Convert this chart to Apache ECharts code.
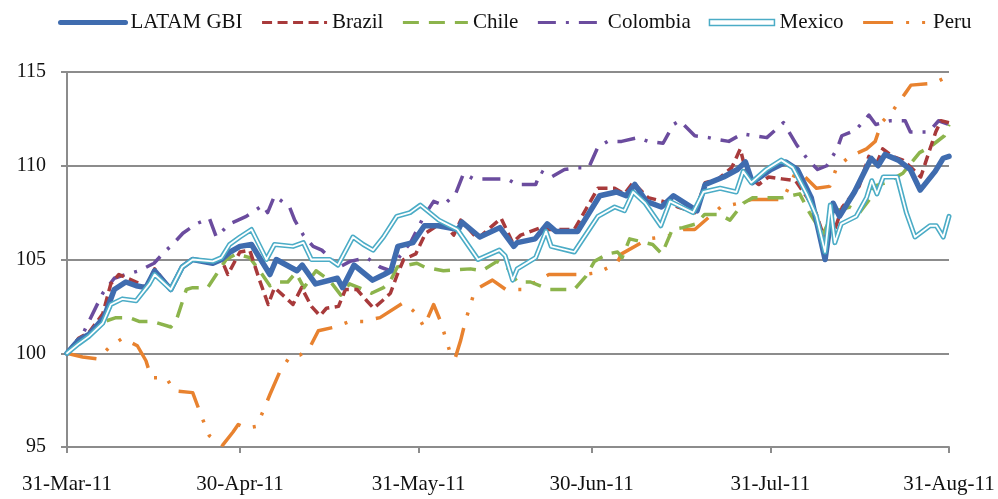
<!DOCTYPE html>
<html>
<head>
<meta charset="utf-8">
<title>LATAM local-currency bond indices</title>
<script src="https://cdn.jsdelivr.net/npm/echarts@6/dist/echarts.min.js"></script>
<style>
  html, body { margin: 0; padding: 0; background: #ffffff; }
  #chart { width: 998px; height: 499px; }
</style>
</head>
<body>
<div id="chart"></div>
<script>
// Index levels (31-Mar-11 = 100). Each point: [days since 31-Mar-11, level]
const latamGbi = [[0,100],[2,100.7],[3.8,101.0],[6.4,101.9],[8.2,103.4],[10.2,103.8],[12,103.6],[13.7,103.5],[15.2,104.4],[18,103.4],[20,104.6],[21.8,105.0],[25.3,104.8],[26.8,105.0],[28.3,105.4],[30,105.7],[32,105.8],[35.2,104.2],[36.3,105.0],[39.9,104.4],[40.8,104.7],[43.1,103.7],[46.9,104.0],[47.8,103.5],[49.8,104.7],[53,103.9],[55,104.2],[56.2,104.4],[57.4,105.7],[60,105.9],[62,106.8],[64.4,106.8],[67.9,106.6],[68.5,107.0],[71.6,106.2],[75.1,106.7],[77.5,105.7],[78.1,105.9],[81.2,106.1],[83.3,106.9],[84.8,106.5],[88.6,106.5],[92.4,108.4],[95.3,108.6],[97,108.4],[98.5,109.0],[100.5,108.1],[103.1,107.8],[105.2,108.4],[109.3,107.6],[110.7,109.0],[113.9,109.4],[116.3,109.8],[117.7,110.2],[118.9,109.1],[122.1,109.8],[124.7,110.2],[126.7,109.8],[129.1,108.3],[131.5,105.0],[132.9,108.0],[134,107.3],[136.6,108.6],[139.5,110.4],[140.7,110.0],[141.9,110.6],[144.2,110.3],[146.3,109.8],[148,108.7],[150.6,109.7],[152,110.4],[153,110.5]];

const brazil = [[0,100],[2,100.8],[3.8,101.1],[6.2,102.1],[7.6,103.7],[9,104.2],[12,103.8],[13.7,103.5],[15.2,104.5],[18,103.4],[20,104.6],[21.8,105.0],[25.3,104.9],[26.8,105.0],[27.9,104.2],[30,105.4],[31.7,105.5],[33.4,103.9],[34.9,102.6],[36,103.5],[37.8,103.0],[39.2,102.6],[40.7,103.5],[42.4,102.5],[43.9,102.0],[45,102.4],[47.1,102.5],[48.3,103.4],[50.3,103.4],[52,102.8],[53.2,102.4],[54.7,102.8],[56.1,103.2],[57.3,104.2],[58.4,105.0],[60.5,105.3],[62.2,106.4],[64.2,106.8],[65.5,106.9],[67.1,106.3],[68.3,107.1],[71.2,106.1],[75.3,107.2],[77.3,105.9],[78.7,106.3],[82.2,106.7],[83.4,106.6],[88,106.6],[92.1,108.8],[95,108.8],[96.7,108.5],[98.2,109.1],[100.8,108.3],[103.4,108.1],[106,107.8],[108.9,107.5],[110.7,109.1],[113,109.3],[115.3,109.9],[116.8,110.9],[117.9,109.5],[120,109.0],[121.7,109.4],[124,109.3],[126.4,109.2],[128.4,108.3],[129.9,107.5],[131.3,106.2],[133.3,106.7],[134.5,107.8],[137.4,108.9],[139.1,110.5],[140.3,110.0],[141.5,110.9],[143.2,110.5],[145,110.3],[146.1,110.0],[148.1,109.4],[149.6,110.8],[150.7,111.8],[151.6,112.4],[153,112.3]];

const chile = [[0,100],[2,100.6],[3.8,101.0],[5.6,101.6],[8.5,101.9],[10.8,101.9],[12.5,101.7],[14.8,101.7],[18,101.4],[18.9,101.7],[20.7,103.4],[21.8,103.5],[24.4,103.5],[25.9,104.2],[27.6,105.0],[29.4,105.3],[31.7,105.1],[33.4,104.4],[35.2,103.6],[36.2,103.8],[38.3,103.8],[39.7,104.3],[41.1,103.5],[43.2,104.4],[45.5,103.9],[47.5,103.1],[49,103.7],[51.4,103.4],[52.8,103.2],[54.9,103.5],[56,103.8],[57.3,104.6],[60.7,104.8],[62,104.6],[65.3,104.4],[70,104.5],[72,104.4],[74.6,104.9],[76.3,104.6],[78.1,103.8],[80.4,103.8],[83.6,103.4],[85.7,103.4],[88,103.4],[90,104.1],[91.5,104.9],[93.8,105.3],[95.5,105.4],[96.3,105.1],[97.6,106.1],[101.6,105.8],[103.2,105.3],[105,106.6],[106.8,106.7],[109.1,106.9],[110.6,107.4],[113.2,107.4],[115,107.1],[117.3,108.0],[119,108.3],[121.3,108.3],[124.2,108.3],[127.1,108.5],[128.8,107.5],[130,106.9],[131.2,106.4],[132.3,107.1],[133.5,107.6],[135.8,107.8],[137.5,107.5],[139.2,108.2],[139.8,108.9],[142.1,109.1],[145,109.6],[147.9,110.7],[149.7,111.0],[152.2,111.6],[153,112.2]];

const colombia = [[0,100],[2.7,101.0],[6.2,103.2],[8.2,104.0],[10.2,104.2],[12.5,104.4],[15.1,104.8],[16.9,105.4],[18.3,105.8],[20.1,106.4],[22.4,106.9],[24.7,107.2],[25.9,106.2],[28.2,106.9],[31.1,107.3],[34,107.9],[34.8,107.5],[36,108.4],[38.6,107.8],[39.5,107.1],[41,106.3],[42.7,105.7],[44.2,105.5],[47.3,104.6],[49.1,104.9],[52,105.1],[54.3,104.6],[56.1,104.4],[57.8,105.2],[59.6,105.9],[61.9,107.3],[63.6,108.1],[65.3,107.9],[67.4,108.5],[68.8,109.6],[70.5,109.3],[76.4,109.3],[78,109.0],[81.3,109.0],[82.2,109.7],[84,109.4],[86.3,109.8],[88.6,109.9],[90.5,109.9],[92.1,111.0],[93.8,111.3],[96.2,111.3],[99.1,111.5],[100.8,111.3],[103.4,111.2],[105.2,112.2],[106.3,112.4],[108.9,111.6],[111.3,111.5],[112.7,111.4],[114.8,111.3],[117.1,111.7],[121.4,111.5],[124.3,112.3],[126.6,111.1],[128.6,110.3],[130.2,109.8],[131.8,110.0],[133.6,110.9],[134.4,111.6],[136.8,111.9],[139.1,112.7],[140.3,112.2],[142.8,112.4],[145.4,112.4],[146.3,111.8],[149.5,111.8],[151.2,112.4],[153,112.2]];

const mexico = [[0,100],[2,100.5],[3.8,100.9],[6.2,101.6],[7.6,102.6],[9.6,102.9],[12,102.8],[14.3,103.7],[15.2,104.2],[18,103.4],[20,104.6],[21.8,105.0],[25.3,104.9],[26.8,105.1],[28.2,105.8],[30,106.2],[32,106.6],[34.6,105.0],[36,105.8],[39.2,105.7],[41,105.9],[42.4,105.0],[45.6,105.0],[47,104.7],[49.6,106.2],[51.4,105.8],[53.1,105.5],[54.9,106.2],[57.2,107.3],[59.5,107.5],[61.3,107.9],[64.5,107.1],[67.7,106.6],[71.3,105.0],[75,105.5],[76,105.2],[77.3,103.9],[78.1,104.5],[81.3,105.1],[83.1,106.5],[84,105.7],[88,105.4],[92.1,107.3],[95,107.8],[96.7,107.6],[98.2,108.6],[100.3,108.0],[103,106.8],[104.6,108.1],[108.6,107.5],[110.4,108.6],[113.3,108.8],[116.1,108.6],[117.3,109.7],[118.7,109.1],[121.3,109.8],[123.9,110.3],[125.9,109.9],[128.3,108.5],[130,107.3],[131.5,105.4],[132.4,107.9],[133.2,105.9],[134.3,106.9],[136.9,107.3],[138.7,108.3],[139.6,109.2],[140.5,108.5],[141.6,109.4],[144,109.4],[145.6,107.5],[147.1,106.2],[149.7,106.8],[150.8,106.8],[152,106.2],[153,107.3]];

const peru = [[0,100],[2.7,99.8],[5.3,99.7],[7.3,100.3],[9.6,100.8],[12.2,100.4],[13.7,99.6],[14.6,98.7],[17.2,98.7],[18.6,98.0],[21.8,97.9],[23.5,96.5],[24.7,95.6],[27,95.1],[28.8,95.8],[29.7,96.2],[31.1,96.0],[32.9,96.1],[34,96.9],[35.2,97.8],[36.9,99.0],[38.6,99.8],[40.4,99.9],[42.1,100.3],[43.6,101.2],[46.5,101.4],[49.1,101.7],[51.4,101.7],[54.3,101.9],[58.4,102.7],[60.7,102.1],[61.9,101.4],[63.6,102.6],[64.8,101.7],[66.5,100.0],[67.3,99.7],[68.3,100.7],[69.1,101.7],[70.6,103.2],[71.5,103.5],[73.8,103.9],[76.1,103.4],[79,103.4],[81.3,103.8],[83.6,104.2],[86.5,104.2],[89.7,104.2],[92.1,104.3],[95.4,104.8],[96.2,105.3],[100.8,106.1],[103.4,106.2],[104.9,106.3],[106.9,106.6],[108.9,106.6],[113.4,107.8],[116.6,108.0],[118.7,108.2],[121.5,108.2],[124.2,108.2],[126.3,109.6],[127.7,109.5],[130,108.8],[132.3,108.9],[133.5,109.9],[135.8,110.5],[138.7,110.9],[140.2,111.3],[141.3,112.3],[143.4,113.0],[145.5,113.9],[146.4,114.3],[150.4,114.4],[153,114.8]];

// Month-end ticks on the date axis
const tickDays = [0, 30, 61, 91, 122, 153];
const tickLabels = ['31-Mar-11', '30-Apr-11', '31-May-11', '30-Jun-11', '31-Jul-11', '31-Aug-11'];
const yTicks = [95, 100, 105, 110, 115];

const SERIF = "'Liberation Serif', 'Times New Roman', serif";
const GREY = '#8c8c8c';

const styles = {
  'LATAM GBI': { color: '#3F6CAF', width: 5.5, dash: 'solid' },
  'Brazil':    { color: '#A83A3B', width: 3.5, dash: [10, 5.5] },
  'Chile':     { color: '#8CB44C', width: 3.5, dash: [16, 10] },
  'Colombia':  { color: '#6B4C9E', width: 3.5, dash: [18, 10, 3, 10] },
  'Mexico':    { color: '#4BACC6', width: 5, dash: 'solid' },
  'Peru':      { color: '#E8822F', width: 3.5, dash: [30, 13, 3, 13, 3, 13] }
};

const chart = echarts.init(document.getElementById('chart'), null, { renderer: 'canvas' });

function lineSeries(name, data, st, z, override) {
  const color = (override && override.color) || st.color;
  const width = (override && override.width) || st.width;
  return {
    name: name,
    type: 'line',
    data: data,
    symbol: 'none',
    showSymbol: false,
    z: z,
    lineStyle: { color: color, width: width, type: st.dash, cap: st.dash === 'solid' ? 'round' : 'butt', join: 'round' },
    itemStyle: { color: color },
    emphasis: { disabled: true }
  };
}

function legendItem(name) {
  const st = styles[name];
  if (name === 'Mexico') {
    return { name: name, icon: 'rect', itemStyle: { color: '#ffffff', borderColor: st.color, borderWidth: 1.5, opacity: 1 } };
  }
  return { name: name, lineStyle: { width: st.width - 0.5, color: st.color, type: st.dash } };
}

chart.setOption({
  animation: false,
  backgroundColor: '#ffffff',
  grid: { left: 67, right: 49, top: 72, bottom: 52 },
  legend: {
    top: 7,
    left: 53,
    itemWidth: 65,
    itemHeight: 6,
    itemGap: 18,
    selectedMode: false,
    itemStyle: { opacity: 0 },
    textStyle: { fontFamily: SERIF, fontSize: 21, color: '#111' },
    data: ['LATAM GBI', 'Brazil', 'Chile', 'Colombia', 'Mexico', 'Peru'].map(legendItem)
  },
  xAxis: {
    type: 'value',
    min: tickDays[0],
    max: tickDays[tickDays.length - 1],
    axisLine: { show: true, lineStyle: { color: GREY, width: 2 } },
    axisTick: { show: true, inside: false, length: 6, customValues: tickDays, lineStyle: { color: GREY, width: 2 } },
    axisLabel: {
      customValues: tickDays,
      margin: 27,
      fontFamily: SERIF,
      fontSize: 21,
      color: '#111',
      formatter: function (v) {
        const i = tickDays.indexOf(Math.round(v));
        return i >= 0 ? tickLabels[i] : '';
      }
    },
    splitLine: { show: false }
  },
  yAxis: {
    type: 'value',
    min: yTicks[0],
    max: yTicks[yTicks.length - 1],
    interval: 5,
    axisLine: { show: true, lineStyle: { color: GREY, width: 2 } },
    axisTick: { show: true, inside: false, length: 6, lineStyle: { color: GREY, width: 2 } },
    axisLabel: { margin: 21, fontFamily: SERIF, fontSize: 20, color: '#111' },
    splitLine: { show: true, lineStyle: { color: GREY, width: 2 } }
  },
  series: [
    lineSeries('LATAM GBI', latamGbi, styles['LATAM GBI'], 6),
    lineSeries('Brazil', brazil, styles['Brazil'], 5),
    lineSeries('Chile', chile, styles['Chile'], 3),
    lineSeries('Colombia', colombia, styles['Colombia'], 4),
    lineSeries('Mexico', mexico, styles['Mexico'], 7),
    // white core that turns the Mexico line into a double rule
    lineSeries('Mexico', mexico, styles['Mexico'], 8, { color: '#ffffff', width: 1.8 }),
    lineSeries('Peru', peru, styles['Peru'], 2)
  ]
});
</script>
</body>
</html>
